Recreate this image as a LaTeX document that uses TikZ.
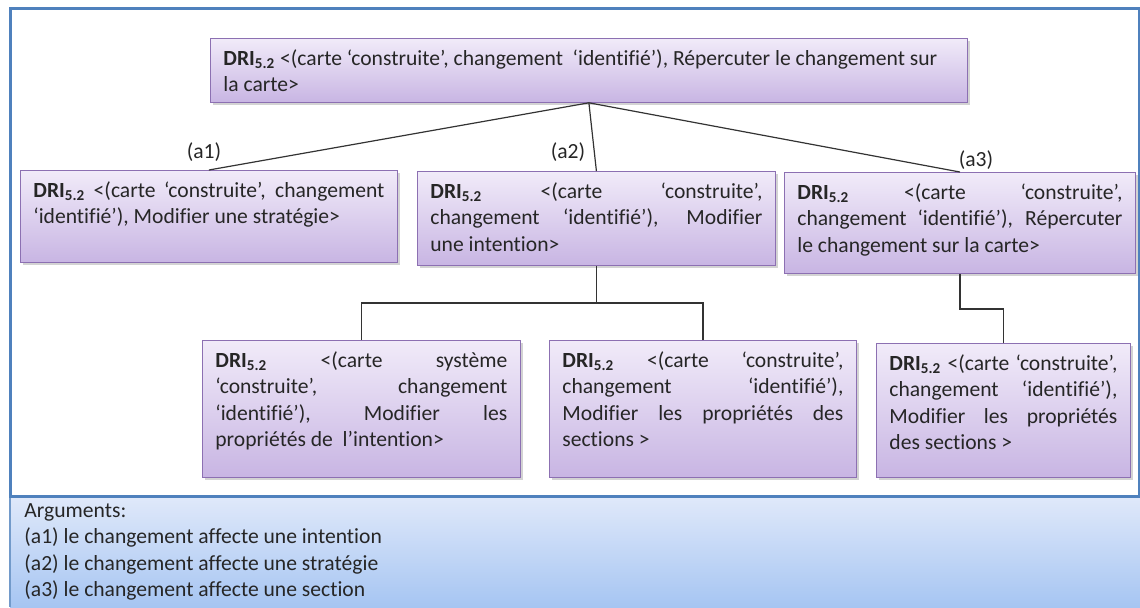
\documentclass[tikz,border=0pt]{standalone}
\usepackage{fontspec}
\setmainfont[Ligatures=NoCommon]{Carlito}
\usepackage{tikz}
\usetikzlibrary{shadows}
\definecolor{frameblue}{RGB}{79,129,189}
\definecolor{argtop}{RGB}{224,233,250}
\definecolor{argbot}{RGB}{166,197,242}
\definecolor{drilight}{RGB}{241,235,249}
\definecolor{dridark}{RGB}{200,181,227}
\definecolor{driedge}{RGB}{140,112,178}
\newcommand{\DRI}{\textbf{DRI\textsubscript{5.2}}}
\newcommand{\drtext}[3]{\parbox[t][#2][t]{#1}{#3}}

\begin{document}
\begin{tikzpicture}[x=0.5pt,y=-0.5pt,
  dribox/.style={draw=driedge,top color=drilight,bottom color=dridark,anchor=north west,
    inner xsep=6.5pt,inner ysep=5.5pt,text=black!85,font=\fontsize{10.8}{13.25}\selectfont,
    drop shadow={opacity=0.35,shadow xshift=1.2pt,shadow yshift=-1.2pt}},
  arglabel/.style={font=\fontsize{10.8}{13.25}\selectfont,text=black!85,inner sep=0pt},
  link/.style={draw=black!80,line width=0.6pt}]
\useasboundingbox (0,0) rectangle (1140,607);
\fill [top color=argtop,bottom color=argbot] (10,496) rectangle (1140,607);
\draw [frameblue!80,line width=0.8pt] (10,496)--(10,607);
\draw [frameblue,line width=1.5pt] (10,8) rectangle (1139,496);

\node[dribox] (top) at (210,38) {\drtext{365.5pt}{21pt}{\DRI{} <(carte ‘construite’, changement~ ‘identifié’), Répercuter le changement sur\newline la carte>}};
\node[dribox] (a1) at (20,170) {\drtext{175.5pt}{35pt}{\DRI{} <(carte ‘construite’, changement\linebreak ‘identifié’), Modifier une stratégie>}};
\node[dribox] (a2) at (417,171) {\drtext{166pt}{36pt}{\DRI{} <(carte ‘construite’,\linebreak changement ‘identifié’), Modifier\linebreak une intention>}};
\node[dribox] (a3) at (784,172) {\drtext{162.5pt}{39.5pt}{\DRI{} <(carte ‘construite’,\linebreak changement ‘identifié’), Répercuter\linebreak le changement sur la carte>}};
\node[dribox] (b1) at (202,340) {\drtext{146pt}{57.5pt}{\DRI{} <(carte système\linebreak ‘construite’, changement\linebreak ‘identifié’), Modifier les\linebreak propriétés de~ l’intention>}};
\node[dribox] (b2) at (549,340) {\drtext{140.5pt}{57.5pt}{\DRI{} <(carte ‘construite’,\linebreak changement ‘identifié’),\linebreak Modifier les propriétés des\linebreak sections >}};
\node[dribox] (b3) at (876,343) {\drtext{114pt}{56pt}{\DRI{} <(carte ‘construite’,\linebreak changement ‘identifié’),\linebreak Modifier les propriétés\linebreak des sections >}};

\node[arglabel] (la1) at (204,152) {(a1)};
\node[arglabel] (la2) at (568,152) {(a2)};
\node[arglabel] (la3) at (976,160) {(a3)};

\draw[link] (top.south) -- (a1.north);
\draw[link] (top.south) -- (a2.north);
\draw[link] (top.south) -- (a3.north);

\coordinate (j2) at (a2.south |- 0,303);
\coordinate (j3) at (a3.south |- 0,309);
\draw[link] (a2.south) -- (j2) -| (b1.north);
\draw[link] (j2) -| (b2.north);
\draw[link] (a3.south) -- (j3) -| (b3.north);

\node[arglabel,anchor=north west,align=left] (args) at (24,503) {Arguments:\\(a1) le changement affecte une intention\\(a2) le changement affecte une stratégie\\(a3) le changement affecte une section};
\end{tikzpicture}
\end{document}
